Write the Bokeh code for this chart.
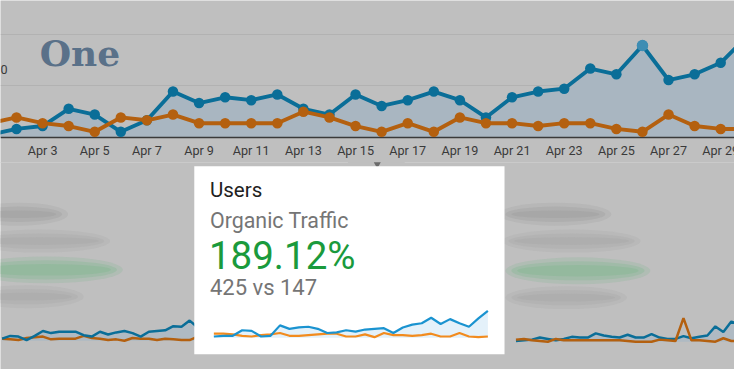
from bokeh.plotting import figure
from bokeh.models import Range1d
from bokeh.core.properties import value
from bokeh.embed import file_html
from bokeh.resources import INLINE

# ---------------- data ----------------
days = list(range(1, 31))                      # April 1 .. April 30
users_current = [1, 3, 4, 10, 8, 2, 6, 16, 12, 14, 13, 15, 10, 8, 15,
                 11, 13, 16, 13, 7, 14, 16, 17, 24, 22, 32, 20, 22, 26, 35]
users_previous = [5, 7, 5, 4, 2, 7, 6, 8, 5, 5, 5, 5, 9, 7, 4,
                  2, 5, 2, 7, 5, 5, 4, 5, 5, 3, 2, 8, 4, 3, 3]
tick_days = [3, 5, 7, 9, 11, 13, 15, 17, 19, 21, 23, 25, 27, 29]
tick_labels = ["Apr 3", "Apr 5", "Apr 7", "Apr 9", "Apr 11", "Apr 13", "Apr 15",
               "Apr 17", "Apr 19", "Apr 21", "Apr 23", "Apr 25", "Apr 27", "Apr 29"]
grid_values = [18, 36]
y_label_cut = "0"
highlight_day = 26

card_title = "Users"
card_segment = "Organic Traffic"
card_change = "189.12%"
card_compare = "425 vs 147"
card_days = list(range(1, 31))
card_current = [2, 3, 3, 11, 10, 2, 3, 18, 13, 15, 16, 13, 7, 8, 11,
                9, 12, 13, 14, 7, 15, 19, 21, 29, 20, 27, 21, 16, 28, 39]
card_previous = [6, 6, 5, 3, 2, 4, 5, 7, 3, 3, 4, 5, 6, 6, 2,
                 2, 5, 1, 7, 4, 4, 3, 4, 6, 2, 2, 7, 2, 1, 2]

left_idx = list(range(25))
left_current = [3, 7, 6, 1, 7, 14, 11, 13, 13, 13, 8, 6, 13, 9, 12,
                14, 11, 6, 13, 14, 15, 21, 20, 29, 19]
left_previous = [3, 2, 1, 4, 5, 6, 2, 3, 3, 3, 7, 4, 3, 1, 2,
                 0, 4, 3, 3, 1, 3, 2, 1, 1, 6]

right_idx = list(range(29))
right_current = [1, 2, 3, 6, 4, 2, 4, 7, 6, 6, 12, 9, 7, 6, 10,
                 6, 6, 11, 6, 4, 4, 8, 5, 7, 9, 22, 14, 29, 24]
right_previous = [3, 4, 2, 1, 0, 4, 2, 2, 2, 2, 2, 2, 2, 2, 1,
                  0, 0, 0, 3, 2, 1, 34, 2, 2, 1, 0, 5, 1, 1]

# ---------------- layout ----------------
W, H = 734, 369            # figure size; the design space below is 750 x 385
RW, RH = 750, 385
BG = "#bfbfbf"
BLUE_D = "#0a6e98"
ORANGE_D = "#b4600f"
AREA_D = "#a9b6c1"
FONT = value("Roboto")

p = figure(width=W, height=H, x_range=Range1d(0, RW), y_range=Range1d(RH, 0),
           output_backend="svg", toolbar_location=None, min_border=0,
           background_fill_color=BG, border_fill_color=BG)
p.axis.visible = False
p.grid.visible = False
p.outline_line_color = None

# top chart ranges (Apr 3 at x=43, 26.65 units/day; 0 users at y=143, 3 units/user)
pxd = 26.65
p.extra_x_ranges["days"] = Range1d(3 + (0 - 43) / pxd, 3 + (RW - 43) / pxd)
p.extra_y_ranges["users"] = Range1d((143 - RH) / 3.0, 143 / 3.0)
# card sparkline
cpx = 9.655
k = 1.38
p.extra_x_ranges["cday"] = Range1d(1 + (0 - 218) / cpx, 1 + (RW - 218) / cpx)
p.extra_y_ranges["cval"] = Range1d(-(RH - 352) * k, 352 * k)
# left dimmed sparkline
lpx = 8.33
p.extra_x_ranges["lidx"] = Range1d((0 - 1.67) / lpx, (RW - 1.67) / lpx)
p.extra_y_ranges["lval"] = Range1d(-(RH - 355) * k, 355 * k)
# right dimmed sparkline
rpx = 8.15
p.extra_x_ranges["ridx"] = Range1d((0 - 526.7) / rpx, (RW - 526.7) / rpx)
p.extra_y_ranges["rval"] = Range1d(-(RH - 356) * k, 356 * k)

T = dict(x_range_name="days", y_range_name="users")

# gridlines
p.hspan(y=grid_values, line_color="#b2b2b2", line_width=1, y_range_name="users")
# area
p.varea(x=days, y1=[0] * len(days), y2=users_current, fill_color=AREA_D, **T)
# baseline
p.hspan(y=[0], line_color="#3a3a3a", line_width=1.5, y_range_name="users")
# lines + markers
p.line(days, users_current, line_color=BLUE_D, line_width=3.9, line_join="round", **T)
p.scatter(days, users_current, size=10.5, fill_color=BLUE_D, line_color=None, **T)
p.line(days, users_previous, line_color=ORANGE_D, line_width=3.9, line_join="round", **T)
p.scatter(days, users_previous, size=10.5, fill_color=ORANGE_D, line_color=None, **T)
hi = days.index(highlight_day)
p.scatter([days[hi]], [users_current[hi]], size=11.5, fill_color="#3e8db3", line_color=None, **T)

# x labels
p.text(x=tick_days, y=[157] * len(tick_days), text=tick_labels, x_range_name="days",
       text_font=FONT, text_font_size="12.6px", text_color="#3a3a3a",
       text_align="center", text_baseline="middle")
# cut-off y label at the left edge
p.text(x=[0], y=[72], text=[y_label_cut], text_font=FONT, text_font_size="12.6px",
       text_color="#3a3a3a", text_align="left", text_baseline="middle")

# logo
p.text(x=[40], y=[55], text=["One"], text_font=value("DejaVu Serif"), text_font_style="bold",
       text_font_size="36px", text_color="#5a7189", text_baseline="middle")

# separator under axis + tab
p.segment(x0=[0, 413], y0=[169, 169], x1=[355, RW], y1=[169, 169],
          line_color="#cbcbcb", line_width=1)
p.triangle(x=[385], y=[171], size=7, angle=3.14159, fill_color="#6a6a6a", line_color=None)

# blurred background cards text
def blob(x0, x1, yc, h, color):
    for i, a in enumerate([0.25, 0.35, 0.45]):
        shrink = i * 4
        p.ellipse(x=[(x0 + x1) / 2], y=[yc], width=[(x1 - x0) + 24 - shrink * 3],
                  height=[h + 12 - shrink * 2], fill_color=color, fill_alpha=a, line_color=None)

for (a, b, yc, h, c) in [(-20, 57, 223, 12, "#9f9f9f"), (-20, 100, 251, 12, "#a9a9a9"),
                         (-20, 113, 281, 16, "#85b892"), (-20, 73, 309, 12, "#a9a9a9"),
                         (522, 612, 223, 12, "#9f9f9f"), (525, 642, 251, 12, "#a9a9a9"),
                         (528, 652, 282, 16, "#85b892"), (528, 628, 310, 12, "#a9a9a9")]:
    blob(a, b, yc, h, c)

# dimmed sparklines
L = dict(x_range_name="lidx", y_range_name="lval")
p.varea(x=left_idx, y1=[0] * len(left_idx), y2=left_current, fill_color="#afbac3", **L)
p.line(left_idx, left_previous, line_color=ORANGE_D, line_width=2.5, **L)
p.line(left_idx, left_current, line_color=BLUE_D, line_width=2.5, **L)
R = dict(x_range_name="ridx", y_range_name="rval")
p.varea(x=right_idx, y1=[0] * len(right_idx), y2=right_current, fill_color="#afbac3", **R)
p.line(right_idx, right_current, line_color=BLUE_D, line_width=2.5, **R)
p.line(right_idx, right_previous, line_color=ORANGE_D, line_width=2.5, **R)

# focused card
p.quad(left=[198], right=[515], top=[173], bottom=[369], fill_color="white", line_color=None)
p.text(x=[214], y=[198], text=[card_title], text_font=FONT, text_font_size="20.5px",
       text_color="#212121", text_baseline="middle")
p.text(x=[214], y=[229.5], text=[card_segment], text_font=FONT, text_font_size="21.4px",
       text_color="#757575", text_baseline="middle")
p.text(x=[213], y=[266], text=[card_change], text_font=FONT, text_font_size="38.5px",
       text_color="#1a9a3c", text_baseline="middle")
p.text(x=[214], y=[299.5], text=[card_compare], text_font=FONT, text_font_size="22px",
       text_color="#757575", text_baseline="middle")
C = dict(x_range_name="cday", y_range_name="cval")
p.varea(x=card_days, y1=[0] * len(card_days), y2=card_current, fill_color="#e4f1fa", **C)
p.line(card_days, card_previous, line_color="#f28b1e", line_width=2.2, **C)
p.line(card_days, card_current, line_color="#1a93d0", line_width=2.2, **C)

open("out.html", "w").write(file_html(p, INLINE))
